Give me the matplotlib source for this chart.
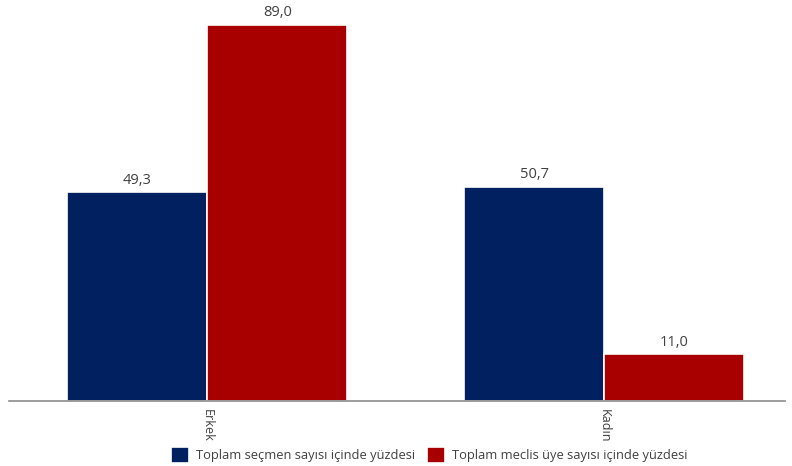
import matplotlib
matplotlib.use("Agg")
import matplotlib.pyplot as plt
import numpy as np

plt.rcParams['font.family'] = ['Open Sans', 'DejaVu Sans']

categories = ["Erkek", "Kadın"]
series_names = ["Toplam seçmen sayısı içinde yüzdesi", "Toplam meclis üye sayısı içinde yüzdesi"]
secmen = [49.3, 50.7]
meclis = [89.0, 11.0]
colors = ["#002060", "#A80000"]

fig = plt.figure(figsize=(7.92, 4.66), dpi=100)
ax = fig.add_axes([9/792, 65/466, 776/792, 401/466])

x = np.arange(len(categories))
w = 0.353
b1 = ax.bar(x - w/2, secmen, w, color=colors[0], edgecolor="white", linewidth=1.2, label=series_names[0])
b2 = ax.bar(x + w/2, meclis, w, color=colors[1], edgecolor="white", linewidth=1.2, label=series_names[1])

for bars, vals in ((b1, secmen), (b2, meclis)):
    for r, v in zip(bars, vals):
        ax.annotate(f"{v:.1f}".replace(".", ","), (r.get_x() + r.get_width()/2, v),
                    xytext=(0, 3), textcoords="offset points", ha="center", va="bottom",
                    fontsize=10.5, color="#404040")

ax.set_xlim(-0.499, 1.455)
ax.set_ylim(0, 94.8)
ax.set_yticks([])
ax.set_xticks(x)
ax.set_xticklabels(categories, rotation=270, fontsize=9, color="#404040")
ax.tick_params(axis="x", length=0, pad=6)
for s in ["top", "right", "left"]:
    ax.spines[s].set_visible(False)
ax.spines["bottom"].set_color("#8C8C8C")
ax.spines["bottom"].set_linewidth(1.2)

fig.legend(handles=[b1, b2], labels=series_names, loc="center", bbox_to_anchor=(429/792, 1 - 455/466),
           ncol=2, frameon=False, fontsize=9.3, handlelength=1.45, handleheight=1.6,
           columnspacing=0.9, handletextpad=0.5, labelcolor="#404040")

fig.savefig("out.png", dpi=100)
